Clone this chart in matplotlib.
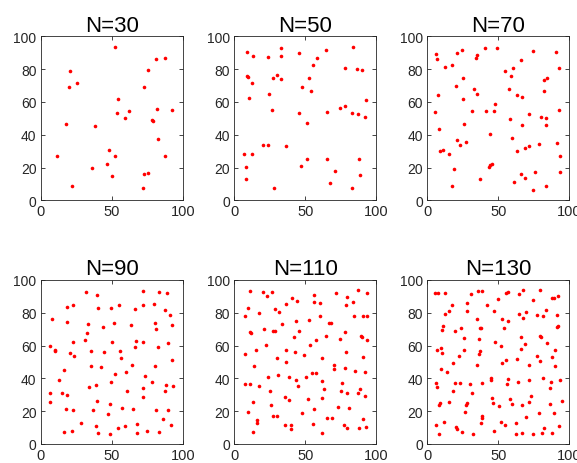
import matplotlib
matplotlib.use("Agg")
import matplotlib.pyplot as plt

plt.rcParams['font.family'] = ['Liberation Sans', 'DejaVu Sans']

titles = ["N=30", "N=50", "N=70", "N=90", "N=110", "N=130"]

x30 = [52.1, 87.7, 81.2, 75.6, 20.5, 25.6, 20.0, 72.8, 54.2, 81.9, 92.6, 62.1, 53.5, 59.3, 78.1,
       78.8, 18.1, 38.4, 82.6, 47.9, 11.6, 52.1, 87.2, 47.0, 35.8, 75.6, 73.0, 50.0, 22.3, 71.9]
y30 = [93.7, 86.8, 86.2, 79.7, 78.7, 71.7, 69.3, 69.3, 61.8, 55.7, 54.9, 54.7, 53.0, 50.4, 49.2,
       48.4, 46.3, 45.3, 37.2, 30.9, 27.2, 27.0, 27.2, 22.0, 19.7, 16.9, 15.9, 14.6, 8.9, 7.7]

x50 = [83.8, 33.0, 64.9, 8.7, 45.7, 13.3, 23.9, 32.8, 58.3, 55.5, 78.0, 86.2, 90.2, 30.0, 8.7,
       9.8, 27.6, 52.9, 33.0, 12.6, 47.5, 54.3, 24.4, 10.1, 93.0, 77.8, 74.5, 26.5, 65.3, 82.9,
       45.7, 87.4, 92.0, 51.1, 23.7, 19.9, 36.5, 7.0, 12.4, 51.3, 65.1, 87.8, 47.3, 8.2, 71.0,
       88.5, 8.2, 67.7, 28.3, 82.7]
y50 = [93.7, 92.9, 91.7, 90.2, 89.6, 88.2, 87.4, 87.8, 87.0, 82.5, 80.7, 80.3, 79.3, 76.6, 75.6,
       75.2, 74.8, 74.8, 74.2, 71.3, 69.1, 66.5, 64.6, 62.6, 61.4, 57.5, 56.1, 54.9, 53.9, 53.5,
       53.3, 52.8, 51.0, 47.0, 33.9, 33.5, 33.3, 28.0, 28.5, 25.4, 25.0, 25.0, 21.1, 20.1, 17.7,
       15.2, 13.2, 10.4, 7.3, 7.5]

x70 = [49.1, 40.6, 24.3, 74.3, 90.6, 21.0, 6.4, 35.1, 6.6, 34.2, 65.8, 17.5, 12.5, 92.9, 60.4,
       55.0, 59.2, 25.2, 84.4, 82.1, 20.5, 33.0, 57.5, 82.5, 35.1, 7.5, 63.4, 66.7, 25.0, 47.4,
       92.7, 31.8, 41.0, 46.7, 5.2, 71.5, 80.0, 83.7, 58.5, 25.9, 66.5, 83.3, 8.0, 43.9, 59.9,
       20.8, 27.4, 91.0, 78.8, 23.1, 71.9, 69.1, 11.1, 9.0, 63.4, 15.6, 93.4, 45.8, 43.9, 43.4,
       18.9, 93.4, 75.7, 65.8, 69.1, 37.3, 60.8, 17.5, 83.3, 74.3]
y70 = [92.9, 92.7, 91.7, 91.3, 90.2, 89.6, 89.0, 88.6, 86.4, 86.8, 85.4, 82.7, 81.1, 80.9, 80.7,
       79.1, 75.6, 74.8, 74.8, 73.2, 69.9, 68.1, 68.1, 66.7, 64.8, 64.4, 64.0, 63.2, 61.6, 58.5,
       55.1, 54.7, 54.5, 54.3, 54.1, 52.4, 50.8, 50.0, 49.4, 46.5, 45.7, 45.7, 43.5, 40.4, 37.8,
       36.6, 35.4, 35.2, 34.3, 33.7, 32.9, 31.7, 30.5, 29.9, 30.1, 28.0, 26.8, 22.0, 21.5, 20.5,
       19.1, 17.5, 17.1, 16.1, 13.6, 13.2, 11.4, 8.5, 8.5, 6.1]

x90 = [72.3, 31.7, 83.1, 39.7, 89.2, 22.5, 54.9, 72.3, 80.0, 18.3, 40.6, 49.5, 66.4, 87.8, 91.1,
       8.2, 18.3, 80.3, 33.3, 51.9, 63.4, 92.3, 43.7, 80.9, 32.4, 31.2, 22.5, 50.0, 66.9, 71.8,
       89.9, 6.3, 66.7, 82.9, 10.3, 10.1, 35.2, 44.6, 55.9, 20.4, 23.5, 56.3, 92.7, 64.3, 35.4,
       42.3, 80.3, 16.4, 60.3, 52.3, 73.2, 12.7, 78.6, 49.5, 39.2, 33.8, 88.5, 93.4, 72.3, 87.3,
       60.8, 6.3, 15.3, 18.5, 72.3, 6.3, 39.9, 49.1, 18.1, 22.5, 36.9, 57.5, 65.0, 80.9, 89.9,
       47.4, 85.9, 28.4, 67.8, 38.7, 59.6, 92.0, 54.2, 21.8, 16.2, 40.6, 48.6, 67.8, 75.1, 83.1]
y90 = [93.5, 92.7, 92.7, 91.0, 91.9, 84.9, 84.5, 84.7, 85.1, 83.3, 82.9, 83.1, 82.1, 81.5, 78.8,
       76.0, 74.5, 73.9, 73.1, 73.5, 72.5, 72.7, 71.3, 70.1, 67.6, 63.7, 62.1, 62.5, 62.7, 62.1,
       61.3, 59.7, 59.4, 59.2, 57.2, 56.6, 56.8, 56.4, 56.8, 55.5, 53.7, 52.5, 51.5, 48.1, 47.5,
       47.0, 47.5, 45.0, 43.6, 42.8, 41.2, 39.3, 37.6, 37.6, 36.0, 35.0, 35.8, 35.2, 34.0, 32.6,
       32.2, 31.4, 30.9, 30.1, 28.9, 25.9, 26.1, 24.6, 21.6, 21.0, 21.0, 22.0, 21.2, 20.6, 21.0,
       18.5, 15.1, 12.6, 12.4, 11.2, 11.0, 11.6, 9.8, 8.1, 7.3, 6.7, 6.3, 6.7, 7.9, 7.3]

x110 = [11.0, 87.1, 20.1, 26.2, 71.7, 93.4, 56.4, 22.9, 79.4, 40.3, 44.3, 56.0, 60.4, 83.8, 36.1,
        78.9, 9.4, 29.0, 31.4, 17.6, 60.7, 7.7, 84.3, 90.6, 93.2, 43.6, 52.7, 33.5, 67.0, 68.1,
        21.1, 27.4, 28.8, 10.8, 11.5, 45.4, 78.0, 64.9, 89.0, 89.7, 41.9, 74.2, 57.8, 93.4, 22.0,
        53.4, 15.2, 36.1, 42.9, 78.9, 7.7, 49.4, 30.2, 62.1, 90.6, 36.3, 70.3, 70.3, 13.8, 78.0,
        84.8, 92.3, 54.8, 57.6, 30.9, 23.7, 38.2, 50.6, 43.3, 61.8, 75.9, 7.5, 11.2, 17.1, 45.2,
        63.2, 88.8, 74.9, 25.3, 79.4, 86.9, 92.0, 35.6, 61.8, 51.8, 38.2, 13.3, 26.0, 72.8, 80.6,
        56.0, 9.6, 47.8, 27.6, 30.0, 65.1, 69.1, 90.9, 15.9, 15.9, 35.6, 39.8, 55.3, 77.5, 79.2,
        39.6, 87.8, 92.7, 12.9, 62.1]
y110 = [93.5, 93.9, 92.9, 92.9, 91.9, 91.9, 90.8, 90.0, 89.8, 89.0, 87.4, 86.6, 86.2, 86.6, 85.3,
        84.5, 82.7, 82.3, 80.7, 79.8, 78.2, 77.8, 78.0, 77.8, 77.8, 74.9, 75.6, 73.3, 73.7, 73.9,
        70.1, 68.8, 68.8, 68.2, 67.4, 68.6, 68.2, 66.0, 66.0, 65.0, 65.0, 64.2, 63.7, 63.3, 60.1,
        60.1, 57.6, 57.2, 56.2, 56.4, 54.6, 54.2, 52.5, 52.3, 53.2, 49.7, 47.9, 46.0, 47.5, 46.6,
        44.6, 44.0, 43.2, 43.2, 42.2, 41.1, 40.9, 41.1, 38.9, 38.3, 37.3, 36.3, 36.3, 35.6, 35.2,
        33.6, 33.8, 32.6, 32.2, 31.0, 31.2, 29.5, 28.9, 28.1, 27.3, 26.7, 25.5, 23.6, 22.6, 21.8,
        21.2, 19.6, 18.7, 17.1, 17.3, 16.1, 15.9, 15.5, 14.5, 13.0, 11.8, 11.6, 12.4, 11.8, 9.6,
        9.2, 9.8, 10.6, 7.3, 6.9]

x130 = [5.7, 7.8, 12.7, 30.9, 35.6, 38.4, 56.8, 55.2, 67.7, 64.9, 79.7, 74.3, 88.0, 89.2, 92.2,
        50.0, 27.8, 17.5, 42.0, 83.7, 15.1, 28.1, 47.2, 69.3, 12.7, 64.9, 77.6, 81.4, 91.0, 67.7,
        35.1, 52.8, 56.6, 11.3, 23.6, 37.7, 36.8, 54.2, 92.2, 91.5, 10.1, 19.8, 66.0, 79.5, 80.4,
        25.7, 36.6, 84.0, 47.4, 69.1, 52.1, 9.9, 66.0, 6.8, 25.7, 36.8, 89.9, 10.1, 36.6, 22.2,
        77.4, 88.0, 55.2, 79.2, 63.4, 52.6, 17.9, 34.7, 71.7, 89.6, 9.9, 13.9, 44.8, 45.0, 57.1,
        81.4, 71.9, 93.6, 6.4, 19.3, 23.1, 64.2, 86.8, 38.4, 55.9, 30.2, 7.1, 86.6, 17.9, 31.6,
        72.9, 45.8, 58.5, 15.6, 94.8, 28.3, 8.7, 71.7, 46.5, 59.4, 86.1, 8.5, 27.4, 50.2, 67.0,
        26.4, 78.8, 88.9, 38.4, 38.7, 69.3, 11.8, 51.7, 62.3, 37.7, 54.5, 6.4, 92.9, 20.5, 82.3,
        20.8, 46.7, 24.5, 8.0, 32.3, 62.5, 66.7, 74.5, 81.1, 87.5]
y130 = [91.9, 91.9, 91.9, 91.4, 93.5, 93.1, 92.9, 92.3, 94.1, 91.4, 93.7, 87.8, 88.8, 88.8, 90.4,
        88.4, 85.9, 84.9, 84.9, 81.9, 80.9, 80.9, 80.9, 80.2, 79.2, 79.2, 78.6, 78.2, 78.8, 76.8,
        76.0, 76.0, 75.2, 71.7, 70.9, 70.7, 70.5, 70.5, 71.7, 71.1, 69.7, 69.0, 65.4, 65.6, 65.4,
        64.8, 64.0, 61.7, 62.5, 60.7, 59.5, 58.5, 58.0, 57.4, 57.4, 56.8, 57.6, 55.2, 54.6, 53.4,
        53.4, 53.0, 51.3, 50.7, 51.7, 49.5, 49.5, 48.1, 48.1, 47.7, 46.0, 44.0, 40.5, 38.9, 39.7,
        40.5, 39.3, 38.9, 37.5, 37.5, 37.5, 37.9, 37.9, 37.1, 36.5, 36.3, 34.6, 34.4, 32.2, 30.8,
        29.1, 28.1, 27.3, 25.9, 26.1, 25.3, 25.3, 25.7, 25.1, 24.6, 24.6, 23.8, 24.0, 23.4, 23.6,
        19.8, 18.7, 19.1, 16.9, 15.9, 16.3, 13.6, 13.6, 13.0, 12.6, 11.8, 11.6, 11.0, 10.6, 10.0,
        9.0, 8.1, 7.3, 6.3, 6.3, 6.1, 6.7, 6.3, 6.7, 6.7]

xs = [x30, x50, x70, x90, x110, x130]
ys = [y30, y50, y70, y90, y110, y130]

W, H = 577, 464
fig = plt.figure(figsize=(W / 100, H / 100), dpi=100)

lefts = [40.7, 234.3, 427.3]
aw = 142.0
tops = [37.3, 281.0]
ah = 164.0

gray = (0.15, 0.15, 0.15)
for i in range(6):
    r, c = divmod(i, 3)
    ax = fig.add_axes([lefts[c] / W, (H - tops[r] - ah) / H, aw / W, ah / H])
    ax.plot(xs[i], ys[i], 'o', color='red', markersize=2.6, markeredgewidth=0)
    ax.set_xlim(0, 100)
    ax.set_ylim(0, 100)
    ax.set_xticks([0, 50, 100])
    ax.set_yticks([0, 20, 40, 60, 80, 100])
    ax.tick_params(direction='in', length=3, width=0.6, colors=gray,
                   top=True, right=True, labeltop=False, labelright=False)
    ax.tick_params(axis='x', labelsize=10.5, pad=3)
    ax.tick_params(axis='y', labelsize=10, pad=3)
    for s in ax.spines.values():
        s.set_color(gray)
        s.set_linewidth(0.6)
    ax.set_title(titles[i], fontsize=16, color='black', pad=4)

fig.savefig("out.png", dpi=100)
